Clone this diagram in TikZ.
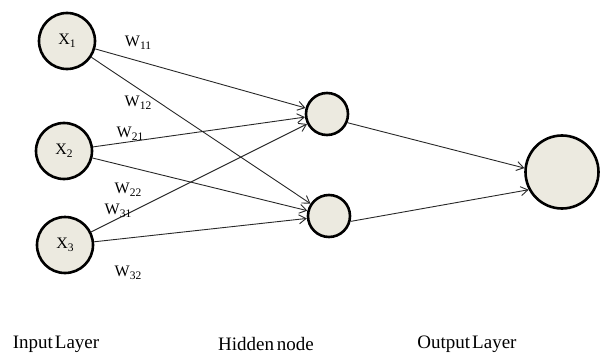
\documentclass[tikz,border=0pt]{standalone}
\usepackage{fontspec}
\setmainfont{Liberation Serif}
\usetikzlibrary{arrows.meta}
\definecolor{nodefill}{RGB}{236,234,224}
\definecolor{edgecol}{RGB}{40,40,40}
\newcommand{\mysub}[1]{\raisebox{-2.5pt}{\fontsize{11.5}{12}\selectfont #1}}
\tikzset{
  neuron/.style={circle, draw=black, line width=2.6pt, fill=nodefill, inner sep=0pt, font=\fontsize{16}{18}\selectfont},
  conn/.style={draw=edgecol, line width=0.9pt, -{Straight Barb[length=7pt,width=9pt,line width=0.9pt]}},
  wlab/.style={font=\fontsize{16}{18}\selectfont, inner sep=0pt},
  laylab/.style={font=\fontsize{19}{21}\selectfont, inner sep=0pt}
}
\begin{document}
\begin{tikzpicture}[x=1pt,y=-1pt]
\useasboundingbox (0,0) rectangle (606,356);
\node[neuron, minimum size=56pt] (x1) at (67,41) {X\mysub{1}};
\node[neuron, minimum size=56pt] (x2) at (64,151) {X\mysub{2}};
\node[neuron, minimum size=56pt] (x3) at (65,245) {X\mysub{3}};
\node[neuron, minimum size=42pt] (h1) at (327,114) {};
\node[neuron, minimum size=42pt] (h2) at (329,216) {};
\node[neuron, minimum size=73pt] (o) at (562,172) {};

\draw[conn] (x1) -- (h1);
\draw[conn] (x1) -- (h2);
\draw[conn] (x2) -- (h1);
\draw[conn] (x2) -- (h2);
\draw[conn] (x3) -- (h1);
\draw[conn] (x3) -- (h2);
\draw[conn] (h1.337) -- (o.174);
\draw[conn] (h2.346) -- (o.208);

\node[wlab] (w11) at (138,43) {W\mysub{11}};
\node[wlab] (w12) at (138,103) {W\mysub{12}};
\node[wlab] (w21) at (130,134) {W\mysub{21}};
\node[wlab] (w22) at (128,190) {W\mysub{22}};
\node[wlab] (w31) at (118,211) {W\mysub{31}};
\node[wlab] (w32) at (128,273) {W\mysub{32}};

\node[laylab] (inl) at (56,344) {Input\hspace{2pt}Layer};
\node[laylab] (hidl) at (266,344) {Hidden\hspace{3pt}node};
\node[laylab] (outl) at (467,344) {Output\hspace{2pt}Layer};
\end{tikzpicture}
\end{document}
